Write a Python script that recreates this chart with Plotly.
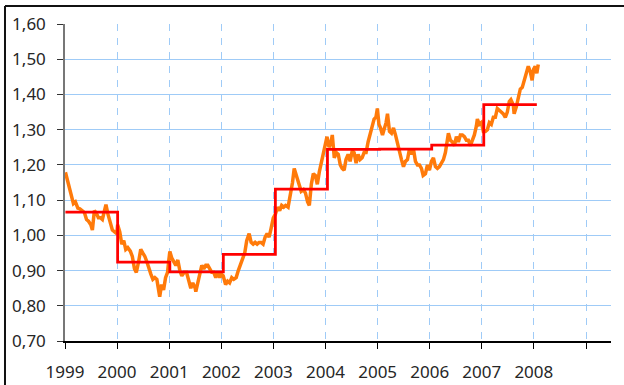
import plotly.graph_objects as go

# EUR/USD daily fixing (sampled) and yearly averages
rate_dates = [
    "1999-01-04", "1999-01-15", "1999-02-01", "1999-02-15", "1999-03-01", "1999-03-15",
    "1999-04-01", "1999-04-15", "1999-05-03", "1999-05-17", "1999-06-01", "1999-06-15",
    "1999-07-01", "1999-07-12", "1999-07-26", "1999-08-09", "1999-08-23", "1999-09-06",
    "1999-09-20", "1999-10-04", "1999-10-15", "1999-10-29", "1999-11-15", "1999-11-29",
    "1999-12-15", "1999-12-30",
    "2000-01-05", "2000-01-20", "2000-02-03", "2000-02-17", "2000-03-02", "2000-03-16",
    "2000-04-03", "2000-04-17", "2000-05-02", "2000-05-15", "2000-05-31", "2000-06-15",
    "2000-06-29", "2000-07-14", "2000-07-28", "2000-08-11", "2000-08-25", "2000-09-08",
    "2000-09-22", "2000-10-06", "2000-10-16", "2000-10-26", "2000-11-08", "2000-11-22",
    "2000-12-06", "2000-12-20", "2000-12-29",
    "2001-01-05", "2001-01-19", "2001-02-02", "2001-02-16", "2001-03-02", "2001-03-16",
    "2001-03-30", "2001-04-16", "2001-05-02", "2001-05-16", "2001-06-01", "2001-06-15",
    "2001-07-02", "2001-07-06", "2001-07-20", "2001-08-03", "2001-08-17", "2001-08-31",
    "2001-09-14", "2001-09-28", "2001-10-12", "2001-10-26", "2001-11-09", "2001-11-23",
    "2001-12-07", "2001-12-21", "2001-12-31",
    "2002-01-14", "2002-01-31", "2002-02-14", "2002-02-28", "2002-03-15", "2002-03-29",
    "2002-04-15", "2002-04-30", "2002-05-15", "2002-05-31", "2002-06-14", "2002-06-28",
    "2002-07-15", "2002-07-29", "2002-08-12", "2002-08-26", "2002-09-09", "2002-09-23",
    "2002-10-07", "2002-10-21", "2002-11-04", "2002-11-18", "2002-12-02", "2002-12-16",
    "2002-12-31",
    "2003-01-15", "2003-01-30", "2003-02-14", "2003-02-28", "2003-03-14", "2003-03-28",
    "2003-04-14", "2003-04-30", "2003-05-15", "2003-05-27", "2003-06-13", "2003-06-30",
    "2003-07-15", "2003-07-31", "2003-08-14", "2003-08-29", "2003-09-10", "2003-09-24",
    "2003-10-08", "2003-10-22", "2003-11-05", "2003-11-19", "2003-12-03", "2003-12-17",
    "2003-12-31",
    "2004-01-12", "2004-01-26", "2004-02-09", "2004-02-18", "2004-03-03", "2004-03-17",
    "2004-03-31", "2004-04-14", "2004-04-27", "2004-05-11", "2004-05-24", "2004-06-08",
    "2004-06-22", "2004-07-07", "2004-07-20", "2004-08-03", "2004-08-17", "2004-08-31",
    "2004-09-14", "2004-09-28", "2004-10-12", "2004-10-26", "2004-11-09", "2004-11-23",
    "2004-12-07", "2004-12-20", "2004-12-30",
    "2005-01-10", "2005-01-21", "2005-02-04", "2005-02-15", "2005-03-01", "2005-03-11",
    "2005-03-25", "2005-04-08", "2005-04-22", "2005-05-06", "2005-05-20", "2005-06-03",
    "2005-06-17", "2005-07-01", "2005-07-15", "2005-07-29", "2005-08-12", "2005-08-26",
    "2005-09-09", "2005-09-23", "2005-10-07", "2005-10-21", "2005-11-04", "2005-11-16",
    "2005-12-02", "2005-12-16", "2005-12-30",
    "2006-01-13", "2006-01-27", "2006-02-10", "2006-02-24", "2006-03-10", "2006-03-24",
    "2006-04-07", "2006-04-21", "2006-05-05", "2006-05-12", "2006-05-26", "2006-06-09",
    "2006-06-23", "2006-07-07", "2006-07-21", "2006-08-04", "2006-08-18", "2006-09-01",
    "2006-09-15", "2006-09-29", "2006-10-13", "2006-10-27", "2006-11-10", "2006-11-24",
    "2006-12-01", "2006-12-15", "2006-12-29",
    "2007-01-12", "2007-01-26", "2007-02-09", "2007-02-23", "2007-03-09", "2007-03-23",
    "2007-04-06", "2007-04-20", "2007-05-04", "2007-05-18", "2007-06-01", "2007-06-15",
    "2007-06-29", "2007-07-13", "2007-07-24", "2007-08-10", "2007-08-16", "2007-08-31",
    "2007-09-14", "2007-09-28", "2007-10-12", "2007-10-26", "2007-11-09", "2007-11-23",
    "2007-12-07", "2007-12-20", "2007-12-31",
    "2008-01-11", "2008-01-22", "2008-02-01",
]
rate_values = [
    1.179, 1.160, 1.130, 1.115, 1.090, 1.095, 1.077, 1.075, 1.070, 1.065, 1.045, 1.040,
    1.030, 1.015, 1.070, 1.063, 1.050, 1.050, 1.045, 1.070, 1.087, 1.060, 1.035, 1.015,
    1.010, 1.005,
    1.030, 1.010, 0.975, 0.985, 0.960, 0.965, 0.955, 0.940, 0.905, 0.895, 0.925, 0.960,
    0.950, 0.940, 0.925, 0.905, 0.890, 0.875, 0.880, 0.875, 0.850, 0.826, 0.860, 0.845,
    0.880, 0.895, 0.930,
    0.954, 0.935, 0.925, 0.915, 0.930, 0.900, 0.885, 0.895, 0.895, 0.875, 0.850, 0.865,
    0.850, 0.840, 0.865, 0.880, 0.915, 0.905, 0.915, 0.915, 0.905, 0.895, 0.895, 0.880,
    0.895, 0.880, 0.890,
    0.885, 0.860, 0.870, 0.865, 0.880, 0.875, 0.880, 0.900, 0.915, 0.935, 0.950, 0.985,
    1.005, 0.980, 0.975, 0.980, 0.975, 0.980, 0.980, 0.975, 0.995, 1.005, 0.995, 1.020,
    1.049,
    1.060, 1.080, 1.070, 1.085, 1.080, 1.085, 1.080, 1.115, 1.150, 1.190, 1.170, 1.145,
    1.125, 1.130, 1.120, 1.095, 1.085, 1.145, 1.175, 1.170, 1.145, 1.180, 1.205, 1.230,
    1.263,
    1.280, 1.250, 1.265, 1.285, 1.220, 1.235, 1.230, 1.200, 1.190, 1.185, 1.215, 1.230,
    1.210, 1.240, 1.235, 1.205, 1.230, 1.215, 1.220, 1.235, 1.235, 1.265, 1.290, 1.310,
    1.330, 1.335, 1.360,
    1.315, 1.305, 1.285, 1.300, 1.320, 1.345, 1.295, 1.290, 1.305, 1.285, 1.260, 1.230,
    1.215, 1.195, 1.210, 1.215, 1.245, 1.230, 1.245, 1.210, 1.200, 1.200, 1.190, 1.170,
    1.175, 1.200, 1.185,
    1.210, 1.220, 1.195, 1.190, 1.195, 1.205, 1.215, 1.235, 1.270, 1.290, 1.270, 1.265,
    1.255, 1.280, 1.265, 1.285, 1.285, 1.280, 1.270, 1.270, 1.255, 1.270, 1.285, 1.310,
    1.330, 1.315, 1.320,
    1.295, 1.295, 1.300, 1.320, 1.315, 1.335, 1.335, 1.360, 1.355, 1.350, 1.345, 1.335,
    1.350, 1.380, 1.385, 1.370, 1.345, 1.365, 1.390, 1.415, 1.420, 1.440, 1.465, 1.480,
    1.465, 1.440, 1.472,
    1.480, 1.460, 1.485,
]

# Yearly averages, stepping at the start of each year
avg_dates = ["1999-01-04", "2000-01-05", "2001-01-05", "2002-01-15", "2003-01-15",
             "2004-01-15", "2005-01-15", "2006-01-15", "2007-01-15", "2008-01-22"]
avg_values = [1.066, 0.924, 0.896, 0.946, 1.131, 1.244, 1.245, 1.256, 1.371, 1.371]

year_ticks = ["1999-01-01", "2000-01-01", "2001-01-01", "2002-01-01", "2003-01-01",
              "2004-01-01", "2005-01-01", "2006-01-01", "2007-01-01", "2008-01-01",
              "2009-01-01"]
year_labels = ["1999", "2000", "2001", "2002", "2003", "2004", "2005", "2006", "2007",
               "2008", ""]
y_ticks = [0.70, 0.80, 0.90, 1.00, 1.10, 1.20, 1.30, 1.40, 1.50, 1.60]
y_labels = ["0,70", "0,80", "0,90", "1,00", "1,10", "1,20", "1,30", "1,40", "1,50", "1,60"]

GRID = "#9fcbf7"
FONT = "Noto Sans"

fig = go.Figure()
fig.add_trace(go.Scatter(
    x=rate_dates, y=rate_values, mode="lines",
    line=dict(color="#ff7a0a", width=3.5), hoverinfo="skip",
))
fig.add_trace(go.Scatter(
    x=avg_dates, y=avg_values, mode="lines",
    line=dict(color="#ff0000", width=2.8, shape="hv"), hoverinfo="skip",
))

fig.update_layout(
    width=624, height=385,
    margin=dict(l=65, r=13, t=24, b=44),
    paper_bgcolor="white", plot_bgcolor="white",
    showlegend=False,
    font=dict(family=FONT, size=17, color="#262626"),
    xaxis=dict(
        type="date", range=["1999-01-01", "2009-06-25"], automargin=False,
        tickmode="array", tickvals=year_ticks, ticktext=year_labels,
        showgrid=True, gridcolor=GRID, gridwidth=1.2, griddash="7px,7px",
        showline=True, linecolor="#000000", linewidth=1.5,
        ticks="outside", ticklen=6, tickcolor="#000000", tickwidth=1,
        ticklabelstandoff=9, zeroline=False,
    ),
    yaxis=dict(
        range=[0.70, 1.60], automargin=False,
        tickmode="array", tickvals=y_ticks, ticktext=y_labels,
        showgrid=True, gridcolor=GRID, gridwidth=1.2,
        showline=True, linecolor="#777777", linewidth=1.5,
        ticks="outside", ticklen=6, tickcolor="#333333", tickwidth=1,
        ticklabelstandoff=8, zeroline=False,
    ),
    shapes=[
        # frame around the chart (left and top edges)
        dict(type="line", xref="paper", yref="paper", x0=-0.1099, x1=-0.1099,
             y0=-0.5, y1=1.0568, line=dict(color="#111111", width=2)),
        dict(type="line", xref="paper", yref="paper", x0=-0.1099, x1=1.2,
             y0=1.0568, y1=1.0568, line=dict(color="#111111", width=2)),
    ],
)

fig.write_html("out.html")
